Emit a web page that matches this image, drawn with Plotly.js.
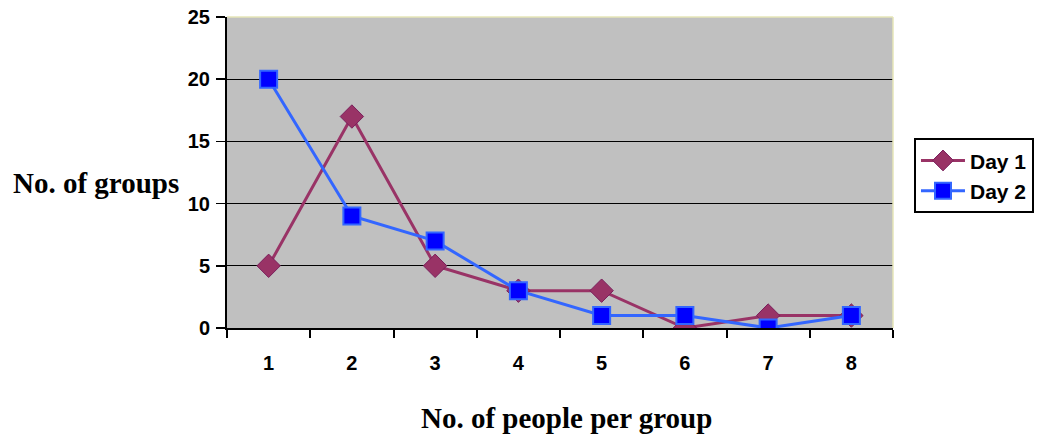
<!DOCTYPE html>
<html><head><meta charset="utf-8">
<script src="https://cdn.plot.ly/plotly-3.0.1.min.js"></script>
<style>body{margin:0;background:#fff}#c{width:1052px;height:435px}</style>
</head><body><div id="c"></div>
<script>
const categories = ["1","2","3","4","5","6","7","8"];
const day1 = [5,17,5,3,3,0,1,1];
const day2 = [20,9,7,3,1,1,0,1];
const seriesNames = ["Day 1","Day 2"];
const yTicks = [0,5,10,15,20,25];
const xTitle = "No. of people per group";
const yTitle = "No. of groups";

const traces = [
  {x: categories, y: day1, name: seriesNames[0], type: "scatter", mode: "lines+markers",
   line: {color: "#993366", width: 3},
   marker: {symbol: "diamond", size: 18, color: "#993366", line: {color: "#7a1f5c", width: 1}}},
  {x: categories, y: day2, name: seriesNames[1], type: "scatter", mode: "lines+markers",
   line: {color: "#3366FF", width: 3},
   marker: {symbol: "square", size: 17, color: "#0000FF", line: {color: "#3366FF", width: 2}}}
];
const layout = {
  width: 1052, height: 435,
  margin: {l: 227, r: 159, t: 17, b: 107},
  paper_bgcolor: "#fff", plot_bgcolor: "#C0C0C0",
  font: {family: "Liberation Sans, Arial, sans-serif", color: "#000"},
  showlegend: true,
  legend: {x: 1.0315, y: 0.61, xanchor: "left", yanchor: "top",
    bordercolor: "#000", borderwidth: 2, bgcolor: "#fff", itemwidth: 44,
    font: {size: 21, family: "Liberation Sans, Arial, sans-serif", weight: "bold"},
    tracegroupgap: 0},
  xaxis: {type: "category", range: [-0.5, 7.5], tickson: "boundaries",
    ticks: "outside", ticklen: 8, tickwidth: 2, tickcolor: "#000", ticklabelstandoff: 16,
    showline: true, linecolor: "#000", linewidth: 2, showgrid: false, zeroline: false,
    tickfont: {size: 20, weight: "bold"}, fixedrange: true},
  yaxis: {range: [0, 25], tickvals: yTicks, ticks: "outside", ticklen: 9, tickwidth: 1.5, tickcolor: "#000",
    ticklabelstandoff: 2,
    showline: true, linecolor: "#000", linewidth: 2, showgrid: true, gridcolor: "#000", gridwidth: 1.2,
    zeroline: false, tickfont: {size: 20, weight: "bold"}},
  shapes: [
    {type: "line", xref: "paper", yref: "paper", x0: 0, x1: 1, y0: 1, y1: 1, line: {color: "#e6e6b8", width: 1.5}},
    {type: "line", xref: "paper", yref: "paper", x0: 1, x1: 1, y0: 0, y1: 1, line: {color: "#e6e6b8", width: 1.5}}
  ],
  annotations: [
    {text: xTitle, xref: "paper", yref: "paper", x: 0.51, y: -0.288, xanchor: "center", yanchor: "middle",
     showarrow: false, font: {family: "Liberation Serif, Times New Roman, serif", size: 29, weight: "bold"}},
    {text: yTitle, xref: "paper", yref: "paper", x: -0.197, y: 0.465, xanchor: "center", yanchor: "middle",
     showarrow: false, font: {family: "Liberation Serif, Times New Roman, serif", size: 29, weight: "bold"}}
  ]
};
Plotly.newPlot("c", traces, layout, {displayModeBar: false, staticPlot: true});
</script></body></html>
